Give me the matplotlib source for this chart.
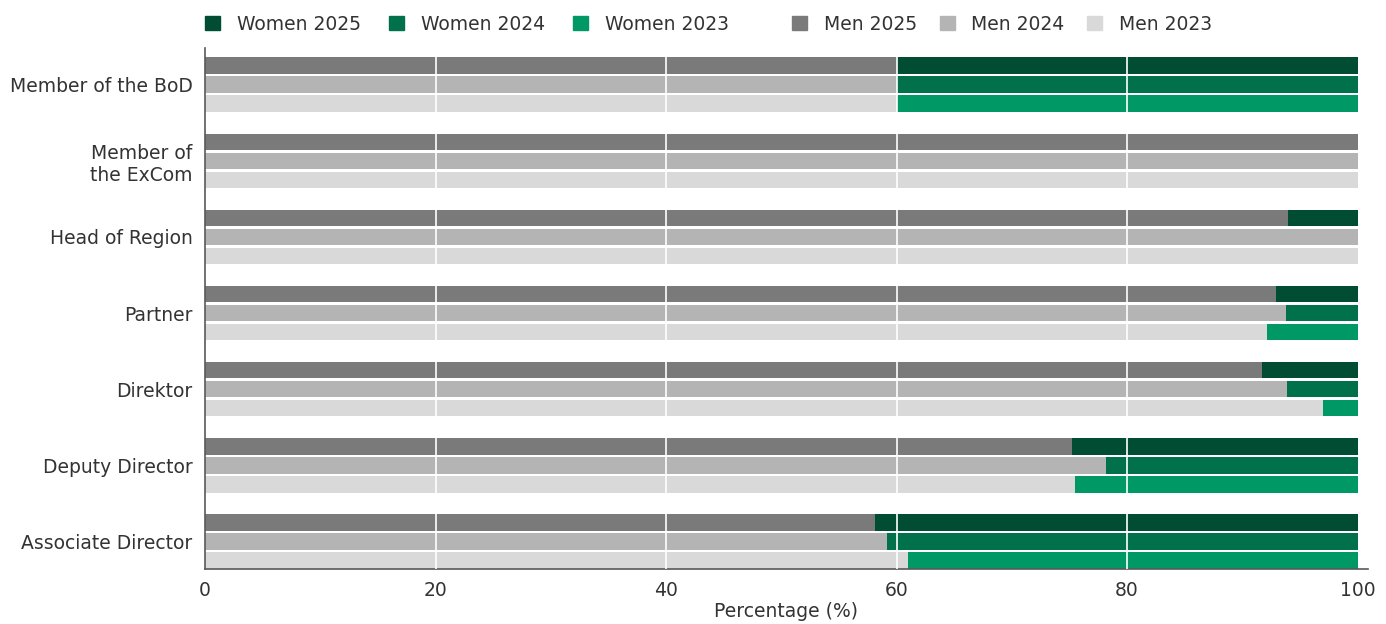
import matplotlib

matplotlib.use("Agg")
import matplotlib.pyplot as plt  # noqa: E402
import numpy as np  # noqa: E402
from matplotlib.patches import Patch  # noqa: E402

categories = ["Member of the BoD", "Member of\nthe ExCom", "Head of Region", "Partner",
              "Direktor", "Deputy Director", "Associate Director"]

men_2025 = [60, 100, 94.0, 92.9, 91.7, 75.2, 58.1]
men_2024 = [60, 100, 100, 93.8, 93.9, 78.2, 59.2]
men_2023 = [60, 100, 100, 92.1, 97.0, 75.5, 61.0]

women_2025 = [40, 0, 6.0, 7.1, 8.3, 24.8, 41.9]
women_2024 = [40, 0, 0, 6.2, 6.1, 21.8, 40.8]
women_2023 = [40, 0, 0, 7.9, 3.0, 24.5, 39.0]

MEN_COLORS = ["#7a7a7a", "#b4b4b4", "#d9d9d9"]
WOMEN_COLORS = ["#004d33", "#00714b", "#009966"]
TEXT = "#333333"

plt.rcParams["font.family"] = ["DejaVu Sans"]

fig = plt.figure(figsize=(13.86, 6.24), dpi=100)
ax = fig.add_axes([205 / 1386, 55 / 624, 1163 / 1386, 521 / 624])

y = np.arange(len(categories))
offsets = [-0.25, 0.0, 0.25]
bar_h = 0.215
series = [(men_2025, women_2025), (men_2024, women_2024), (men_2023, women_2023)]
for i, (men, women) in enumerate(series):
    ax.barh(y + offsets[i], men, height=bar_h, color=MEN_COLORS[i], lw=0)
    ax.barh(y + offsets[i], women, left=men, height=bar_h, color=WOMEN_COLORS[i], lw=0)

# white vertical gridlines drawn over the bars
for gx in [20, 40, 60, 80]:
    ax.axvline(gx, color="white", lw=1.2, zorder=3)

ax.set_xlim(0, 100.9)
ax.set_ylim(6.36, -0.48)
ax.set_xticks([0, 20, 40, 60, 80, 100])
ax.set_yticks(y)
ax.set_yticklabels(categories, ha="right")
ax.tick_params(axis="both", length=0, labelsize=13.5, labelcolor=TEXT)
ax.tick_params(axis="y", pad=9)
ax.tick_params(axis="x", pad=9)
ax.set_xlabel("Percentage (%)", fontsize=13.5, color=TEXT, labelpad=1)

for side in ["top", "right"]:
    ax.spines[side].set_visible(False)
for side in ["left", "bottom"]:
    ax.spines[side].set_color("#595959")
    ax.spines[side].set_linewidth(1.2)

leg_kw = dict(loc="center left", ncol=3, frameon=False, fontsize=13.5, borderpad=0,
              borderaxespad=0, handlelength=0.8, handleheight=0.8, handletextpad=0.9,
              labelcolor=TEXT)
women_handles = [Patch(color=c) for c in WOMEN_COLORS]
men_handles = [Patch(color=c) for c in MEN_COLORS]
fig.legend(women_handles, ["Women 2025", "Women 2024", "Women 2023"],
           bbox_to_anchor=(205 / 1386, 1 - 24 / 624), columnspacing=1.5, **leg_kw)
fig.legend(men_handles, ["Men 2025", "Men 2024", "Men 2023"],
           bbox_to_anchor=(792 / 1386, 1 - 24 / 624), columnspacing=1.2, **leg_kw)

fig.savefig("out.png", dpi=100)
